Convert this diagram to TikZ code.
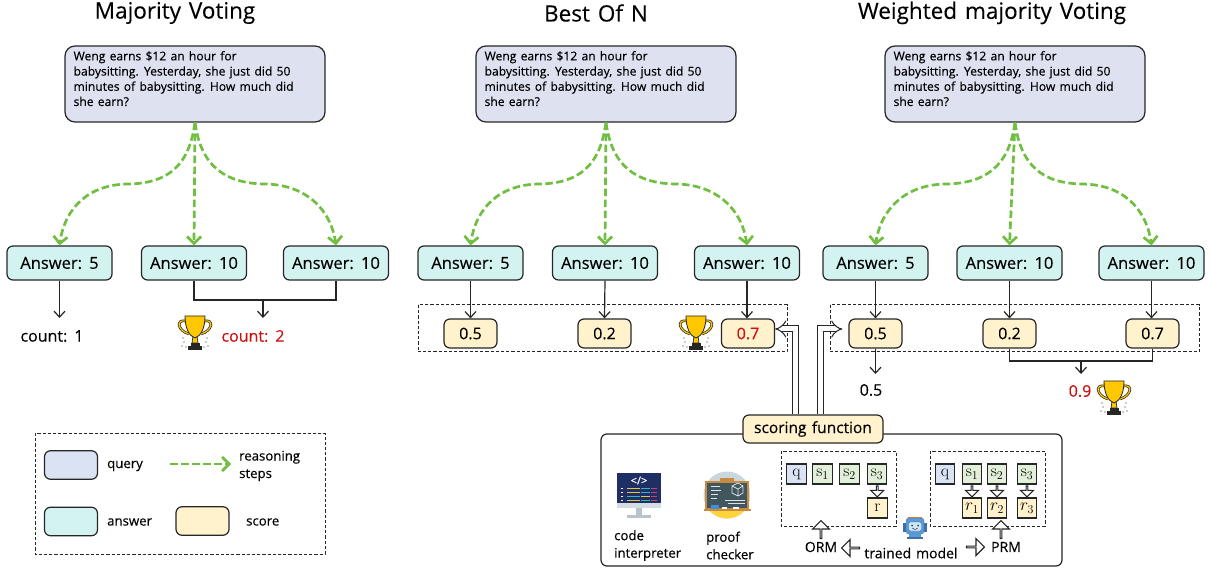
\documentclass[tikz,border=0pt]{standalone}
\usepackage{fontspec}
\setmainfont[FakeBold=0.25,WordSpace=1.35]{Open Sans}
\newfontfamily\lmr{Latin Modern Roman}
\usetikzlibrary{arrows.meta,shapes.arrows,calc,bending}
\definecolor{qfill}{HTML}{DEE2F0}
\definecolor{lqfill}{HTML}{DAE3F3}
\definecolor{afill}{HTML}{D3F3F1}
\definecolor{sfill}{HTML}{FFF2CC}
\definecolor{sgreen}{HTML}{E2F0D9}
\definecolor{edge}{HTML}{262626}
\definecolor{leaf}{HTML}{70BF41}
\definecolor{wred}{HTML}{CC1111}
\definecolor{gold}{HTML}{FFC800}
\definecolor{steel}{HTML}{B7C4C9}
\definecolor{lsteel}{HTML}{D5DDE0}
\definecolor{navy}{HTML}{1F2F66}
\definecolor{cy}{HTML}{E8C63A}
\definecolor{cc}{HTML}{28B7C4}
\definecolor{cr}{HTML}{E03A5C}
\definecolor{halo}{HTML}{C9D6DC}
\definecolor{sun}{HTML}{FFD43B}
\definecolor{wood}{HTML}{C78A3E}
\definecolor{slate}{HTML}{42565E}
\definecolor{bluetab}{HTML}{3D8FE0}
\definecolor{chalk}{HTML}{DDE5E8}
\definecolor{robo}{HTML}{5B9BD5}
\definecolor{robod}{HTML}{3E6FA8}
\definecolor{robof}{HTML}{CFE6F5}
\definecolor{robok}{HTML}{2E4A6B}
\definecolor{robot}{HTML}{E8743B}
\tikzset{
  x=1pt,y=-1pt,
  box/.style={draw=edge,line width=1.2pt,rounded corners=6pt,inner sep=0pt,align=center},
  query/.style={box,fill=qfill,rounded corners=10pt,minimum width=260pt,minimum height=76pt,text width=242pt,align=left,font=\fontsize{12.1}{15.2}\selectfont},
  answer/.style={box,fill=afill,minimum width=105pt,minimum height=34pt,font=\fontsize{16.5}{18}\selectfont},
  score/.style={box,fill=sfill,minimum width=53pt,minimum height=29pt,font=\fontsize{16}{18}\selectfont},
  title/.style={inner sep=0pt,font=\fontsize{22.5}{24}\selectfont},
  lab/.style={inner sep=0pt,font=\fontsize{16}{18}\selectfont},
  small/.style={inner sep=0pt,align=left,font=\fontsize{13.2}{17.5}\selectfont},
  tiny box/.style={draw=edge,line width=1.1pt,minimum width=19.5pt,minimum height=20pt,inner sep=0pt,font=\lmr\fontsize{17}{18}\selectfont},
  qb/.style={tiny box,fill=lqfill},
  sb/.style={tiny box,fill=sgreen},
  rb/.style={tiny box,fill=sfill},
  dashbox/.style={draw=edge,line width=1pt,dash pattern=on 3.2pt off 2pt},
  line/.style={draw=edge,line width=1.2pt},
  tip/.style={line,-{Straight Barb[length=6pt,width=11pt]}},
  reason/.style={draw=leaf,line width=2.7pt,dash pattern=on 7.5pt off 3.5pt,-{Straight Barb[length=7pt,width=14pt]}},
  dbl/.style={draw=edge,line width=1pt,double=white,double distance=5pt,-{Implies}},
  fat/.style={single arrow,draw=edge,fill=white,line width=1.1pt,inner sep=0pt,single arrow tip angle=90},
  fats/.style={fat,minimum width=13pt,minimum height=11pt,single arrow head extend=3.5pt},
  fatb/.style={fat,minimum width=17pt,minimum height=18pt,single arrow head extend=4.5pt},
  trophy/.pic={
    \fill[edge] (-7,13.5) rectangle (7,17);
    \fill[edge] (-4.5,10) rectangle (4.5,13.5);
    \draw[edge,fill=gold,line width=.7pt] (-2,3) -- (-3,10) -- (3,10) -- (2,3) -- cycle;
    \draw[edge,line width=2.6pt] (-9,-12) .. controls (-20,-14) and (-17,-2) .. (-6,1);
    \draw[edge,line width=2.6pt] (9,-12) .. controls (20,-14) and (17,-2) .. (6,1);
    \draw[gold,line width=1.2pt] (-9,-12) .. controls (-20,-14) and (-17,-2) .. (-6,1);
    \draw[gold,line width=1.2pt] (9,-12) .. controls (20,-14) and (17,-2) .. (6,1);
    \draw[edge,fill=gold,line width=.8pt] (-10,-17) -- (10,-17) .. controls (10,-5) and (6,3) .. (0,5) .. controls (-6,3) and (-10,-5) .. (-10,-17) -- cycle;
    \foreach \p/\q in {-11/9,-13/13,-9/14,11/9,13/13,9/14,12/5,-12/5}{\fill[edge] (\p,\q) circle (.7);}
  },
}
\newcommand{\group}[5]{%
  % #1 prefix, #2 query centre x, #3-5 answer centre x
  \node[box,fill=qfill,rounded corners=10pt,minimum width=260pt,minimum height=76pt] (#1q) at (#2,84) {};
  \node[anchor=north west,inner sep=0pt,align=left,font=\fontsize{12.1}{15.2}\selectfont] (#1qt) at ($(#1q.north west)+(9,5.5)$) {Weng earns \$12 an hour for\\babysitting. Yesterday, she just did 50\\minutes of babysitting. How much did\\she earn?};
  \node[answer] (#1a1) at (#3,263) {Answer: 5};
  \node[answer] (#1a2) at (#4,263) {Answer: 10};
  \node[answer] (#1a3) at (#5,263) {Answer: 10};
  \coordinate (#1m1) at ($(#1q.south)!.5!(#1a1.north)+(2,0)$);
  \coordinate (#1m3) at ($(#1q.south)!.5!(#1a3.north)+(-2,0)$);
  \draw[reason] (#1q.south) .. controls ($(#1q.south)+(-6,44)$) and ($(#1m1)+(38,-1)$) .. (#1m1) .. controls ($(#1m1)+(-42,0)$) and ($(#1a1.north)+(4,-36)$) .. (#1a1.north);
  \draw[reason] (#1q.south) -- (#1a2.north);
  \draw[reason] (#1q.south) .. controls ($(#1q.south)+(6,44)$) and ($(#1m3)+(-38,-1)$) .. (#1m3) .. controls ($(#1m3)+(42,0)$) and ($(#1a3.north)+(-4,-36)$) .. (#1a3.north);
}
\begin{document}
\begin{tikzpicture}
\useasboundingbox (0,0) rectangle (1211,569);
\fill[white] (0,0) rectangle (1211,569);

% titles
\node[title] (t1) at (175,13) {Majority Voting};
\node[title] (t2) at (596,13) {Best Of N};
\node[title] (t3) at (992,13) {Weighted majority Voting};

% three groups
\group{l}{195}{59.5}{194}{336}
\group{m}{606}{470.5}{605}{747}
\group{r}{1015}{875.5}{1009.5}{1151.5}

% majority voting results
\node[lab] (c1) at (52,336) {count: 1};
\node[lab,text=wred] (c2) at (253,336) {count: 2};
\pic at (195,333) {trophy};
\coordinate (le1) at (59.5,318);
\coordinate (lj) at (263,300);
\coordinate (le2) at (263,318);
\draw[tip] (la1.south) -- (le1);
\draw[line] (la2.south) |- (lj) -| (la3.south);
\draw[tip] (lj) -- (le2);

% best of N
\draw[dashbox] (418,305) rectangle (787,352);
\node[score] (ms1) at (470.5,333.5) {0.5};
\node[score] (ms2) at (604.5,333.5) {0.2};
\node[score,text=wred] (ms3) at (748,333.5) {0.7};
\pic at (696,333) {trophy};
\draw[tip] (ma1.south) -- (ms1.north);
\draw[tip] (ma2.south) -- (ms2.north);
\draw[tip] (ma3.south) -- (ma3.south |- ms3.north);

% weighted
\draw[dashbox] (830,305) rectangle (1199,352);
\node[score] (rs1) at (875.5,333.5) {0.5};
\node[score] (rs2) at (1009.5,333.5) {0.2};
\node[score] (rs3) at (1152.5,333.5) {0.7};
\draw[tip] (ra1.south) -- (rs1.north);
\draw[tip] (ra2.south) -- (rs2.north);
\draw[tip] (ra3.south) -- (ra3.south |- rs3.north);
\node[lab] (r05) at (871,390) {0.5};
\node[lab,text=wred] (r09) at (1080,391) {0.9};
\pic at (1114,398) {trophy};
\coordinate (re1) at (875.5,374);
\coordinate (rj) at (1081,361);
\coordinate (re2) at (1081,374);
\draw[tip] (rs1.south) -- (re1);
\draw[line] (rs2.south) |- (rj) -| (rs3.south);
\draw[tip] (rj) -- (re2);

% scoring panel
\node[box,fill=white,minimum width=461pt,minimum height=132pt] (panel) at (831.5,500) {};
\node[box,fill=sfill,minimum width=140pt,minimum height=28pt,font=\fontsize{15.5}{18}\selectfont] (sf) at (813,429) {scoring function};
\draw[dbl] ([xshift=-17.5pt]sf.north) |- ([yshift=4.5pt]ms3.east);
\draw[dbl] ([xshift=7.5pt]sf.north) |- ([yshift=4.5pt,xshift=-6pt]rs1.west);

% code interpreter icon
\fill[steel] (636,508) rectangle (642,515);
\fill[steel] (627,515) rectangle (651,518);
\fill[lsteel] (617,503) rectangle (661,508);
\fill[navy] (617,473) rectangle (661,503);
\node[inner sep=0pt,text=white,font=\fontsize{11}{12}\selectfont] (codeglyph) at (639,480.5) {</>};
\foreach \yy/\a/\b/\c in {488/cy/cc/cr,492/cy/cc/cr,496/cc/cy/cr,499.5/cy/cc/cr}{
  \fill[white] (621,\yy) rectangle (623,\yy+1.2);
  \fill[\a] (627,\yy) rectangle (640,\yy+1.2);
  \fill[\b] (641,\yy) rectangle (650,\yy+1.2);
  \fill[\c] (651,\yy) rectangle (657,\yy+1.2);
}
\node[small,anchor=west] (code) at (614,545.5) {code\\interpreter};

% proof checker icon
\begin{scope}
\clip (727,495) circle (23.5);
\fill[halo] (703,471) rectangle (751,519);
\fill[sun] (703,505) rectangle (751,519);
\end{scope}
\fill[wood] (705,481) rectangle (749,511);
\fill[slate] (707,483) rectangle (747,508);
\fill[wood] (720,478) rectangle (734,481);
\fill[wood] (704,508.5) rectangle (751,511);
\fill[bluetab] (711,505) rectangle (719,508.5);
\fill[white] (722,506.5) rectangle (727,508.5);
\fill[white] (733,506.5) rectangle (739,508.5);
\foreach \yy/\w in {486/9,490/10,494/7,498/6}{\fill[chalk] (711,\yy) rectangle (711+\w,\yy+1);}
\draw[chalk,line width=.7pt] (732,486) -- (738,483) -- (743,486) -- (743,493) -- (738,496) -- (732,493) -- cycle (732,486) -- (738,489) -- (743,486) (738,489) -- (738,496);
\fill[chalk] (725,500) rectangle (745,501);
\fill[chalk] (728,503) rectangle (745,504);
\node[small,anchor=west] (proof) at (706,545.5) {proof\\checker};

% ORM
\draw[dashbox] (781,451) rectangle (896,526);
\node[qb] (oq) at (796.5,474) {q};
\node[sb] (os1) at (822.5,474) {s$_1$};
\node[sb] (os2) at (849.5,474) {s$_2$};
\node[sb] (os3) at (877,474) {s$_3$};
\node[rb] (or) at (877.5,508) {r};
\node[fats,shape border rotate=270] (oa) at ($(os3.south)!.5!(or.north)$) {};

% PRM
\draw[dashbox] (930,451) rectangle (1045,526);
\node[qb] (pq) at (945,474) {q};
\node[sb] (ps1) at (972,474) {s$_1$};
\node[sb] (ps2) at (997,474) {s$_2$};
\node[sb] (ps3) at (1027,474) {s$_3$};
\node[rb] (pr1) at (972,508) {$r_1$};
\node[rb] (pr2) at (997,508) {$r_2$};
\node[rb] (pr3) at (1027,508) {$r_3$};
\node[fats,shape border rotate=270] (pa1) at ($(ps1.south)!.5!(pr1.north)$) {};
\node[fats,shape border rotate=270] (pa2) at ($(ps2.south)!.5!(pr2.north)$) {};
\node[fats,shape border rotate=270] (pa3) at ($(ps3.south)!.5!(pr3.north)$) {};

% trained model row
\node[small,font=\fontsize{14}{16}\selectfont] (orm) at (821,547) {ORM};
\node[small,font=\fontsize{14}{16}\selectfont] (prm) at (1006,547) {PRM};
\node[small,font=\fontsize{14}{16}\selectfont] (tm) at (911,553) {trained model};
\node[fatb,shape border rotate=90] (ua1) at (821,530) {};
\node[fatb,shape border rotate=90] (ua2) at (1001,530) {};
\node[fatb,shape border rotate=180] (la) at (851,548) {};
\node[fatb] (ra) at (975,547) {};

% robot
\fill[robot] (908,516.5) rectangle (922,518.5);
\fill[robod] (903,523) rectangle (927,532);
\draw[robod,fill=robo,rounded corners=3pt] (906,518) rectangle (924,534);
\draw[robod,fill=robof,rounded corners=2pt] (908.5,522) rectangle (921.5,531);
\fill[robok] (912,525.5) circle (1) (918,525.5) circle (1);
\draw[robok,line width=.5pt] (912,528) -- (915,529.5) -- (918,528);
\fill[robo] (909,534) rectangle (921,537);
\fill[robod] (907,537) rectangle (923,538.5);

% legend
\draw[dashbox] (35,433) rectangle (325,554);
\node[box,fill=lqfill,minimum width=53pt,minimum height=28.5pt] (lgq) at (71,465) {};
\node[box,fill=afill,minimum width=53pt,minimum height=28.5pt] (lga) at (71,521.5) {};
\node[box,fill=sfill,minimum width=53pt,minimum height=28.5pt] (lgs) at (202.5,521) {};
\node[small,anchor=west] (lgqt) at (107,466) {query};
\node[small,anchor=west] (lgat) at (107,522) {answer};
\node[small,anchor=west] (lgst) at (246,522) {score};
\node[small,anchor=west] (lgrt) at (239,466) {reasoning\\steps};
\coordinate (lgr0) at (170,464);
\coordinate (lgr1) at (231,464);
\draw[reason] (lgr0) -- (lgr1);
\end{tikzpicture}
\end{document}
